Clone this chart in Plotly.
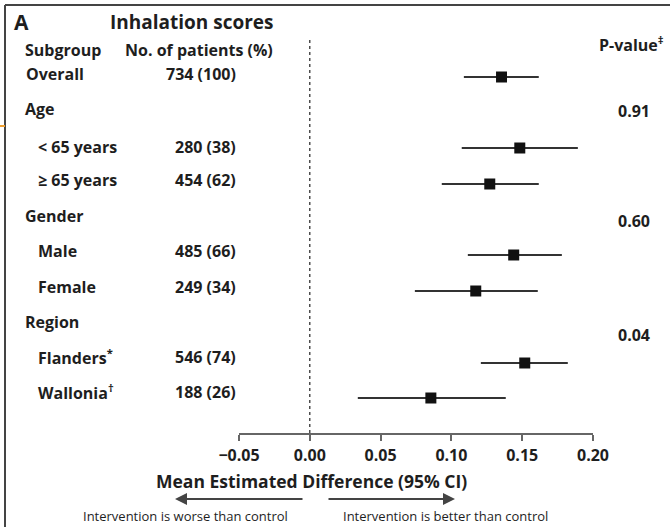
import plotly.graph_objects as go

# ---------------- data ----------------
subgroups = ["Overall", "< 65 years", "≥ 65 years", "Male", "Female", "Flanders<sup>*</sup>", "Wallonia<sup>†</sup>"]
patients = ["734 (100)", "280 (38)", "454 (62)", "485 (66)", "249 (34)", "546 (74)", "188 (26)"]
mean_diff = [0.1354, 0.1483, 0.1271, 0.1440, 0.1172, 0.1518, 0.0855]
ci_low = [0.1088, 0.1073, 0.0932, 0.1116, 0.0742, 0.1208, 0.0339]
ci_high = [0.1617, 0.1893, 0.1617, 0.1780, 0.1610, 0.1822, 0.1384]
group_headers = ["Age", "Gender", "Region"]
p_values = ["0.91", "0.60", "0.04"]
tick_vals = [-0.05, 0.0, 0.05, 0.10, 0.15, 0.20]

# ---------------- layout constants (pixels) ----------------
W, H = 670, 527
AXIS_PY = 433
row_py = [77, 148, 184, 255, 291, 363, 398]
label_py = [74, 147, 180, 251, 287, 357, 392]
label_px = [24, 36, 36, 36, 36, 36, 36]
header_py = [109, 216, 322]
pval_py = [111, 221, 335]

FONT = "Open Sans"
TXT = "#1e1e1e"


def px(x):
    return x / W


def py(y):
    return (H - y) / H


fig = go.Figure()

fig.add_trace(go.Scatter(
    x=mean_diff, y=row_py, mode="markers",
    marker=dict(symbol="square", size=11, color="#111111"),
    error_x=dict(type="data", symmetric=False,
                 array=[h - m for h, m in zip(ci_high, mean_diff)],
                 arrayminus=[m - l for m, l in zip(mean_diff, ci_low)],
                 width=0, thickness=2, color="#333333"),
    showlegend=False, hoverinfo="skip",
))

ann = []
def T(text, x, y, size=16, bold=True, xanchor="left", color=TXT):
    ann.append(dict(text=f"<b>{text}</b>" if bold else text, x=px(x), y=py(y), xref="paper", yref="paper",
                    xanchor=xanchor, yanchor="middle", showarrow=False,
                    font=dict(family=FONT, size=size, color=color)))

T("A", 12, 22, size=21)
T("Inhalation scores", 108, 22, size=19)
T("Subgroup", 23, 50)
T("No. of patients (%)", 123, 50)
T("P-value<sup>‡</sup>", 597, 44)
for s, n, y, x in zip(subgroups, patients, label_py, label_px):
    T(s, x, y)
    T(n, 238, y, xanchor="right")
for h, y in zip(group_headers, header_py):
    T(h, 23, y)
for p, y in zip(p_values, pval_py):
    T(p, 634, y, xanchor="center")

T("Mean Estimated Difference (95% CI)", 311, 481, size=17.5, xanchor="center")
T("Intervention is worse than control", 185, 516, size=13, bold=False, xanchor="center")
T("Intervention is better than control", 445, 516, size=13, bold=False, xanchor="center")

# arrows
ann.append(dict(x=px(175), y=py(499), xref="paper", yref="paper", ax=304 - 175, ay=0,
                axref="pixel", ayref="pixel", text="", showarrow=True,
                arrowhead=2, arrowsize=1.2, arrowwidth=2, arrowcolor="#444444"))
ann.append(dict(x=px(455), y=py(499), xref="paper", yref="paper", ax=327 - 455, ay=0,
                axref="pixel", ayref="pixel", text="", showarrow=True,
                arrowhead=2, arrowsize=1.2, arrowwidth=2, arrowcolor="#444444"))

shapes = [
    # frame
    dict(type="line", xref="paper", yref="paper", x0=px(5), x1=1, y0=py(5), y1=py(5),
         line=dict(color="#444444", width=2)),
    dict(type="line", xref="paper", yref="paper", x0=px(5), x1=px(5), y0=py(5), y1=0,
         line=dict(color="#444444", width=2)),
    dict(type="line", xref="paper", yref="paper", x0=0, x1=px(5), y0=py(126), y1=py(126),
         line=dict(color="#f0a030", width=2)),
    # reference line at zero
    dict(type="line", xref="x", yref="y", x0=0, x1=0, y0=40, y1=AXIS_PY,
         line=dict(color="#222222", width=1.2, dash="dot")),
]

fig.update_layout(
    width=W, height=H,
    margin=dict(l=0, r=0, t=0, b=0, autoexpand=False),
    paper_bgcolor="white", plot_bgcolor="white",
    annotations=ann, shapes=shapes,
    xaxis=dict(domain=[px(239), px(593)], range=[-0.05, 0.20],
               tickvals=tick_vals, tickformat=".2f",
               showgrid=False, zeroline=False, showline=True, linecolor="#666666", linewidth=1.5,
               ticks="outside", ticklen=6, tickcolor="#666666", tickwidth=1.5,
               tickfont=dict(family=FONT, size=16, color=TXT, weight="bold"), ticklabelstandoff=1),
    yaxis=dict(domain=[py(AXIS_PY), 1], range=[AXIS_PY, 0], visible=False),
)

fig.write_html("out.html")
